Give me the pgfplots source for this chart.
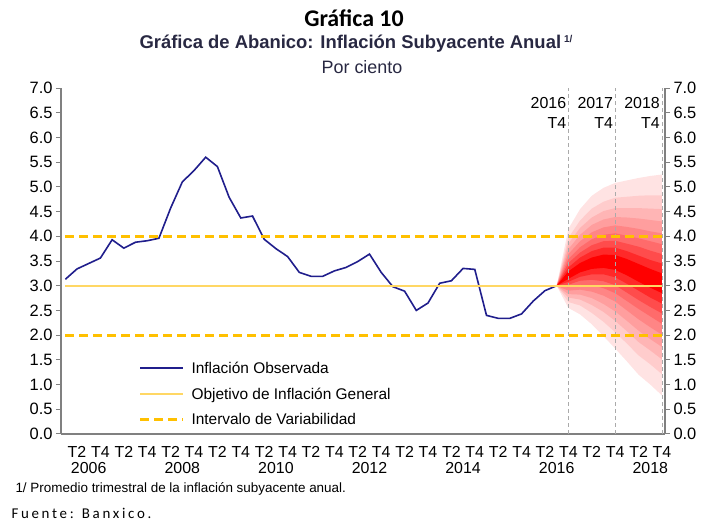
\documentclass[border=0pt]{standalone}
\usepackage{fontspec}
\setmainfont{Liberation Sans}
\newfontfamily\calibri{Carlito}
\usepackage{pgfplots}
\pgfplotsset{compat=1.18}
\definecolor{navyline}{RGB}{32,30,140}
\definecolor{goldd}{RGB}{255,192,0}
\definecolor{paleY}{RGB}{255,215,100}
\definecolor{axgray}{RGB}{128,128,128}
\definecolor{subt}{RGB}{40,40,66}
\definecolor{vgray}{RGB}{170,170,170}
\newcommand{\ytl}{\fontsize{16.5}{19}\selectfont\pgfmathprintnumber[fixed,fixed zerofill,precision=1,assume math mode=true]{\tick}}
\newcommand{\xtickfont}{\fontsize{16}{19}\selectfont}
\begin{document}
\begin{tikzpicture}
\path[use as bounding box] (0,0) rectangle (707bp,523bp);
\begin{axis}[
  at={(61bp,89bp)}, anchor=south west,
  scale only axis, width=604bp, height=346bp,
  xmin=-0.37, xmax=51.26, ymin=0, ymax=7,
  clip=false,
  axis x line*=bottom, axis y line*=left,
  axis line style={axgray, line width=1.5bp},
  ytick={0,0.5,1,1.5,2,2.5,3,3.5,4,4.5,5,5.5,6,6.5,7},
  yticklabel={\ytl},
  tick align=outside,
  major tick length=5bp,
  y tick style={axgray, line width=1bp},
  x tick style={draw=none},
  xtick={1,3,5,7,9,11,13,15,17,19,21,23,25,27,29,31,33,35,37,39,41,43,45,47,49,51},
  xticklabels={T2,T4,T2,T4,T2,T4,T2,T4,T2,T4,T2,T4,T2,T4,T2,T4,T2,T4,T2,T4,T2,T4,T2,T4,T2,T4},
  xticklabel style={font=\xtickfont, yshift=-4bp},
  extra x ticks={2,10,18,26,34,42,50},
  extra x tick labels={2006,2008,2010,2012,2014,2016,2018},
  extra x tick style={major tick length=0pt, tick label style={yshift=-21bp}},
  legend style={at={(0.128,0.212)}, anchor=north west, draw=none, fill=none,
    font=\fontsize{15.5}{18}\selectfont, row sep=11bp, inner sep=0pt, nodes={inner sep=1bp}},
  legend cell align=left,
  legend image code/.code={\draw[#1] (0bp,0bp) -- (43bp,0bp); \path (49bp,0bp);},
]
% fan chart, outer to inner
\addplot[fill=red!11, draw=none, forget plot] coordinates {(42,3.00)(43,4.15)(44,4.55)(45,4.82)(46,4.98)(47,5.08)(48,5.13)(49,5.18)(50,5.22)(51,5.25)(51,0.78)(50,1.00)(49,1.20)(48,1.47)(47,1.73)(46,1.98)(45,2.22)(44,2.42)(43,2.55)(42,3.00)};
\addplot[fill=red!20, draw=none, forget plot] coordinates {(42,3.00)(43,3.97)(44,4.32)(45,4.56)(46,4.70)(47,4.78)(48,4.80)(49,4.82)(50,4.83)(51,4.83)(51,1.21)(50,1.41)(49,1.59)(48,1.83)(47,2.06)(46,2.27)(45,2.45)(44,2.60)(43,2.67)(42,3.00)};
\addplot[fill=red!29, draw=none, forget plot] coordinates {(42,3.00)(43,3.85)(44,4.17)(45,4.38)(46,4.51)(47,4.57)(48,4.57)(49,4.57)(50,4.56)(51,4.55)(51,1.51)(50,1.69)(49,1.86)(48,2.08)(47,2.29)(46,2.47)(45,2.61)(44,2.72)(43,2.76)(42,3.00)};
\addplot[fill=red!38, draw=none, forget plot] coordinates {(42,3.00)(43,3.74)(44,4.03)(45,4.23)(46,4.34)(47,4.39)(48,4.38)(49,4.36)(50,4.33)(51,4.30)(51,1.76)(50,1.92)(49,2.09)(48,2.29)(47,2.48)(46,2.63)(45,2.75)(44,2.82)(43,2.83)(42,3.00)};
\addplot[fill=red!48, draw=none, forget plot] coordinates {(42,3.00)(43,3.64)(44,3.90)(45,4.08)(46,4.18)(47,4.22)(48,4.19)(49,4.15)(50,4.10)(51,4.06)(51,2.01)(50,2.16)(49,2.32)(48,2.50)(47,2.68)(46,2.80)(45,2.88)(44,2.92)(43,2.90)(42,3.00)};
\addplot[fill=red!58, draw=none, forget plot] coordinates {(42,3.00)(43,3.54)(44,3.78)(45,3.94)(46,4.03)(47,4.06)(48,4.01)(49,3.96)(50,3.90)(51,3.84)(51,2.23)(50,2.38)(49,2.53)(48,2.69)(47,2.85)(46,2.95)(45,3.01)(44,3.02)(43,2.97)(42,3.00)};
\addplot[fill=red!70, draw=none, forget plot] coordinates {(42,3.00)(43,3.46)(44,3.67)(45,3.82)(46,3.90)(47,3.91)(48,3.85)(49,3.79)(50,3.71)(51,3.64)(51,2.44)(50,2.57)(49,2.71)(48,2.86)(47,3.01)(46,3.09)(45,3.12)(44,3.10)(43,3.02)(42,3.00)};
\addplot[fill=red!84, draw=none, forget plot] coordinates {(42,3.00)(43,3.37)(44,3.57)(45,3.70)(46,3.77)(47,3.77)(48,3.70)(49,3.61)(50,3.52)(51,3.45)(51,2.64)(50,2.76)(49,2.90)(48,3.04)(47,3.17)(46,3.23)(45,3.23)(44,3.18)(43,3.08)(42,3.00)};
\addplot[fill=red, draw=none, forget plot] coordinates {(42,3.00)(43,3.29)(44,3.46)(45,3.57)(46,3.63)(47,3.62)(48,3.54)(49,3.44)(50,3.34)(51,3.25)(51,2.85)(50,2.96)(49,3.08)(48,3.21)(47,3.32)(46,3.36)(45,3.34)(44,3.27)(43,3.14)(42,3.00)};
% vertical markers
\addplot[vgray, line width=0.8bp, dash pattern=on 4bp off 3bp, forget plot] coordinates {(43,0)(43,7)};
\addplot[vgray, line width=0.8bp, dash pattern=on 4bp off 3bp, forget plot] coordinates {(47,0)(47,7)};
\addplot[vgray, line width=0.8bp, dash pattern=on 4bp off 3bp, forget plot] coordinates {(51,0)(51,7)};
% observed inflation
\addplot[navyline, line width=1.6bp] coordinates {
(0,3.13)(1,3.34)(2,3.45)(3,3.56)(4,3.93)(5,3.76)(6,3.88)(7,3.91)(8,3.96)(9,4.57)
(10,5.10)(11,5.33)(12,5.60)(13,5.41)(14,4.79)(15,4.37)(16,4.41)(17,3.94)(18,3.75)(19,3.59)
(20,3.27)(21,3.19)(22,3.19)(23,3.30)(24,3.37)(25,3.49)(26,3.64)(27,3.27)(28,2.98)(29,2.89)
(30,2.50)(31,2.65)(32,3.05)(33,3.10)(34,3.35)(35,3.33)(36,2.40)(37,2.34)(38,2.34)(39,2.43)
(40,2.69)(41,2.90)(42,3.00)};
\addlegendentry{Inflación Observada}
\addplot[paleY, line width=1.8bp] coordinates {(0,3)(51,3)};
\addlegendentry{Objetivo de Inflación General}
\addplot[goldd, line width=3bp, dash pattern=on 9bp off 5bp] coordinates {(0,4)(51,4)};
\addlegendentry{Intervalo de Variabilidad}
\addplot[goldd, line width=3bp, dash pattern=on 9bp off 5bp, forget plot] coordinates {(0,2)(51,2)};
\node[anchor=north east, align=right, inner sep=0pt, font=\fontsize{16}{20}\selectfont] at (axis cs:43,7) [xshift=-2bp, yshift=-9bp] {2016\\T4};
\node[anchor=north east, align=right, inner sep=0pt, font=\fontsize{16}{20}\selectfont] at (axis cs:47,7) [xshift=-2bp, yshift=-9bp] {2017\\T4};
\node[anchor=north east, align=right, inner sep=0pt, font=\fontsize{16}{20}\selectfont] at (axis cs:51,7) [xshift=-2bp, yshift=-9bp] {2018\\T4};
\end{axis}
\begin{axis}[
  at={(61bp,89bp)}, anchor=south west,
  scale only axis, width=604bp, height=346bp,
  xmin=-0.37, xmax=51.26, ymin=0, ymax=7,
  axis x line=none, axis y line*=right,
  axis line style={axgray, line width=1.5bp},
  ytick={0,0.5,1,1.5,2,2.5,3,3.5,4,4.5,5,5.5,6,6.5,7},
  yticklabel={\ytl},
  tick align=outside,
  major tick length=5bp,
  y tick style={axgray, line width=1bp},
]
\addplot[draw=none] coordinates {(0,0)};
\end{axis}
\node[font=\calibri\bfseries\fontsize{24}{28}\selectfont] at (354bp,505bp) {Gráfica 10};
\node[anchor=west, text=subt, font=\bfseries\fontsize{18.5}{22}\selectfont] at (136bp,479bp) {Gráfica de Abanico: Inflación Subyacente Anual\,\raisebox{0.6ex}{\fontsize{10}{11}\selectfont 1/}};
\node[text=subt, font=\fontsize{18}{21}\selectfont] at (362bp,456bp) {Por ciento};
\node[anchor=west, font=\fontsize{13.5}{16}\selectfont] at (12bp,34bp) {1/ Promedio trimestral de la inflación subyacente anual.};
\node[anchor=west, font=\calibri\addfontfeatures{LetterSpace=18}\fontsize{15}{18}\selectfont] at (8bp,10bp) {Fuente: Banxico.};
\end{tikzpicture}
\end{document}
